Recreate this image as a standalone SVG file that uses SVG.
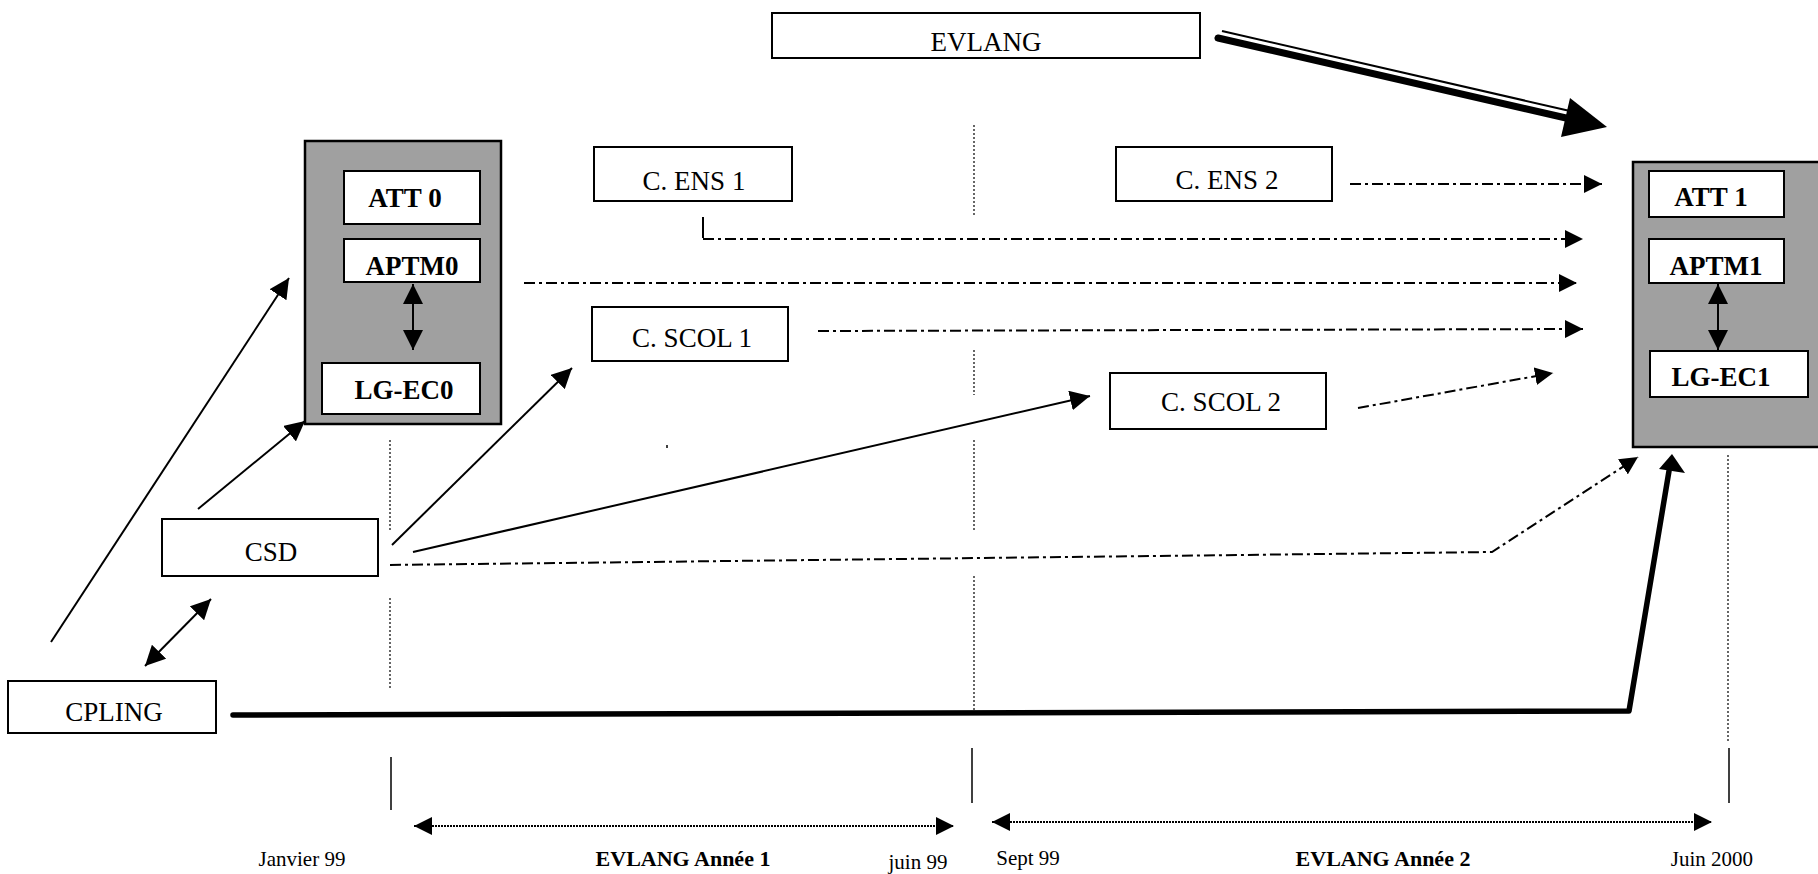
<svg xmlns="http://www.w3.org/2000/svg" width="1818" height="874" viewBox="0 0 1818 874">
<style>
text{font-family:"Liberation Serif","Times New Roman",serif;fill:#000}
.lbl{font-size:27px;text-anchor:middle}
.bld{font-size:27px;font-weight:bold;text-anchor:middle}
.tl{font-size:21px;text-anchor:middle}
.tlb{font-size:22px;font-weight:bold;text-anchor:middle}
.box{fill:#fff;stroke:#000;stroke-width:2}
.gray{fill:#a0a0a0;stroke:#000;stroke-width:2.5}
.ln{fill:none;stroke:#000;stroke-width:2}
.dd{fill:none;stroke:#000;stroke-width:2;stroke-dasharray:11 4 3 4}
.guide{fill:none;stroke:#000;stroke-width:1.2;stroke-dasharray:2 2}
.tick{fill:none;stroke:#000;stroke-width:1.5}
.dot{fill:none;stroke:#000;stroke-width:2;stroke-dasharray:2 1}
</style>
<defs>
<marker id="arr" viewBox="0 0 20 20" refX="20" refY="10" markerWidth="20" markerHeight="20" markerUnits="userSpaceOnUse" orient="auto-start-reverse">
<path d="M0,0 L20,10 L0,20 z" fill="#000"/>
</marker>
<marker id="arrS" viewBox="0 0 18 18" refX="18" refY="9" markerWidth="18" markerHeight="18" markerUnits="userSpaceOnUse" orient="auto-start-reverse">
<path d="M0,0 L18,9 L0,18 z" fill="#000"/>
</marker>
</defs>

<g id="guides">
<line class="guide" x1="390" y1="440" x2="390" y2="531"/>
<line class="guide" x1="390" y1="598" x2="390" y2="689"/>
<line class="guide" x1="974" y1="125" x2="974" y2="217"/>
<line class="guide" x1="974" y1="350" x2="974" y2="395"/>
<line class="guide" x1="974" y1="440" x2="974" y2="532"/>
<line class="guide" x1="974" y1="576" x2="974" y2="710"/>
<line class="guide" x1="1728" y1="455" x2="1728" y2="742"/>
<line class="tick" x1="391" y1="757" x2="391" y2="810"/>
<line class="tick" x1="972" y1="748" x2="972" y2="803"/>
<line class="tick" x1="1729" y1="748" x2="1729" y2="803"/>
<line class="tick" x1="667" y1="445" x2="667" y2="448"/>
</g>

<g id="EVLANG">
<rect class="box" x="772" y="13" width="428" height="45"/>
<text class="lbl" x="986" y="51">EVLANG</text>
</g>

<g id="BLOC0">
<rect class="gray" x="305" y="141" width="196" height="283"/>
<g id="ATT0"><rect class="box" x="344" y="171" width="136" height="53"/><text class="bld" x="405" y="207">ATT 0</text></g>
<g id="APTM0"><rect class="box" x="344" y="239" width="136" height="43"/><text class="bld" x="412" y="275">APTM0</text></g>
<g id="LGEC0"><rect class="box" x="322" y="363" width="158" height="51"/><text class="bld" x="404" y="399">LG-EC0</text></g>
</g>

<g id="BLOC1">
<rect class="gray" x="1633" y="162" width="190" height="285"/>
<g id="ATT1"><rect class="box" x="1649" y="171" width="135" height="46"/><text class="bld" x="1711" y="206">ATT 1</text></g>
<g id="APTM1"><rect class="box" x="1649" y="239" width="135" height="44"/><text class="bld" x="1716" y="275">APTM1</text></g>
<g id="LGEC1"><rect class="box" x="1650" y="351" width="158" height="46"/><text class="bld" x="1721" y="386">LG-EC1</text></g>
</g>

<g id="CENS1"><rect class="box" x="594" y="147" width="198" height="54"/><text class="lbl" x="694" y="190">C. ENS 1</text></g>
<g id="CENS2"><rect class="box" x="1116" y="147" width="216" height="54"/><text class="lbl" x="1227" y="189">C. ENS 2</text></g>
<g id="CSCOL1"><rect class="box" x="592" y="307" width="196" height="54"/><text class="lbl" x="692" y="347">C. SCOL 1</text></g>
<g id="CSCOL2"><rect class="box" x="1110" y="373" width="216" height="56"/><text class="lbl" x="1221" y="411">C. SCOL 2</text></g>
<g id="CSD"><rect class="box" x="162" y="519" width="216" height="57"/><text class="lbl" x="271" y="561">CSD</text></g>
<g id="CPLING"><rect class="box" x="8" y="681" width="208" height="52"/><text class="lbl" x="114" y="721">CPLING</text></g>

<g id="connectors">
<line class="ln" x1="51" y1="642" x2="289" y2="278" marker-end="url(#arr)"/>
<line class="ln" x1="198" y1="509" x2="305" y2="421" marker-end="url(#arr)"/>
<line class="ln" x1="145" y1="666" x2="211" y2="599" marker-start="url(#arr)" marker-end="url(#arr)"/>
<line class="ln" x1="413" y1="284" x2="413" y2="350" marker-start="url(#arr)" marker-end="url(#arr)"/>
<line class="ln" x1="1718" y1="284" x2="1718" y2="350" marker-start="url(#arr)" marker-end="url(#arr)"/>
<line class="ln" x1="392" y1="545" x2="572" y2="368" marker-end="url(#arr)"/>
<line class="ln" x1="413" y1="552" x2="1090" y2="396" marker-end="url(#arr)"/>
<line class="dd" x1="1350" y1="184" x2="1602" y2="184" marker-end="url(#arrS)"/>
<line class="ln" x1="703" y1="217" x2="703" y2="238"/>
<line class="dd" x1="703" y1="239" x2="1583" y2="239" marker-end="url(#arrS)"/>
<line class="dd" x1="524" y1="283" x2="1577" y2="283" marker-end="url(#arrS)"/>
<line class="dd" x1="818" y1="331" x2="1583" y2="329" marker-end="url(#arrS)"/>
<line class="dd" x1="1358" y1="408" x2="1553" y2="373" marker-end="url(#arrS)"/>
<polyline class="dd" points="390,565 1492,552 1638,457" marker-end="url(#arrS)"/>
<polyline points="233,715 1629,711 1669,471" fill="none" stroke="#000" stroke-width="5.5" stroke-linecap="round" stroke-linejoin="round"/>
<polygon points="1672,454 1685,473 1659,469" fill="#000"/>
<line x1="1218" y1="38" x2="1566" y2="118" stroke="#000" stroke-width="7" stroke-linecap="round"/>
<line x1="1222" y1="31" x2="1570" y2="111" stroke="#000" stroke-width="2"/>
<polygon points="1607,127 1561,137 1570,98" fill="#000"/>
<line class="dot" x1="414" y1="826" x2="954" y2="826" marker-start="url(#arrS)" marker-end="url(#arrS)"/>
<line class="dot" x1="992" y1="822" x2="1712" y2="822" marker-start="url(#arrS)" marker-end="url(#arrS)"/>
</g>

<g id="timeline-labels">
<text class="tl" x="302" y="866">Janvier 99</text>
<text class="tlb" x="683" y="866">EVLANG Année 1</text>
<text class="tl" x="918" y="869">juin 99</text>
<text class="tl" x="1028" y="865">Sept 99</text>
<text class="tlb" x="1383" y="866">EVLANG Année 2</text>
<text class="tl" x="1712" y="866">Juin 2000</text>
</g>
</svg>
